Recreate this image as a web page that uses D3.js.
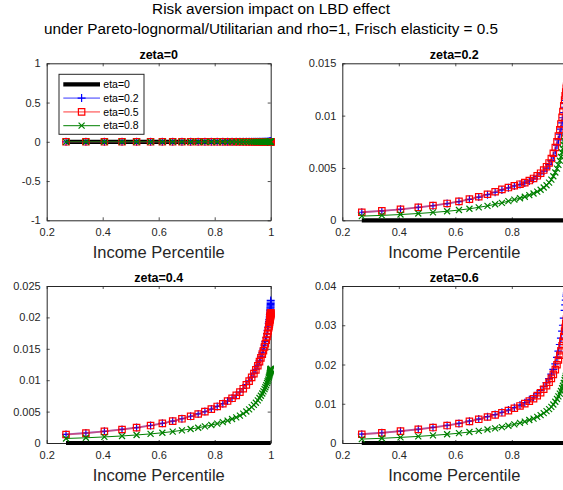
<!DOCTYPE html>
<html>
<head>
<meta charset="utf-8">
<script src="https://cdn.jsdelivr.net/npm/d3@7"></script>
<style>
  html, body { margin: 0; padding: 0; background: #fff; overflow: hidden; }
  svg { display: block; font-family: "Liberation Sans", Arial, Helvetica, sans-serif; }
</style>
</head>
<body>
<svg id="fig" width="563" height="490"></svg>
<script>
// ---- data -------------------------------------------------------------
const percentile = [0.269, 0.340, 0.406, 0.469, 0.521, 0.571, 0.613, 0.650, 0.683, 0.714,
  0.741, 0.765, 0.788, 0.809, 0.829, 0.846, 0.862, 0.877, 0.890, 0.902,
  0.913, 0.923, 0.932, 0.940, 0.947, 0.954, 0.960, 0.965, 0.970, 0.974,
  0.978, 0.981, 0.984, 0.987, 0.989, 0.991, 0.993, 0.994, 0.995, 0.996,
  0.997, 0.9975, 0.998, 0.9985, 0.9988, 0.9991, 0.9993, 0.9995, 0.9997, 0.9998,
  0.9999, 1.0];

const zeroLine = [0, 0, 0, 0, 0, 0, 0, 0, 0, 0, 0, 0, 0, 0, 0, 0, 0, 0, 0, 0,
  0, 0, 0, 0, 0, 0, 0, 0, 0, 0, 0, 0, 0, 0, 0, 0, 0, 0, 0, 0,
  0, 0, 0, 0, 0, 0, 0, 0, 0, 0, 0, 0];

// zeta = 0.2
const zeta02_eta02 = [0.00077, 0.00090, 0.00105, 0.00123, 0.00140, 0.00160, 0.00179, 0.00200, 0.00222, 0.00245,
  0.00268, 0.00290, 0.00310, 0.00328, 0.00342, 0.00357, 0.00376, 0.00396, 0.00420, 0.00443,
  0.00470, 0.00499, 0.00532, 0.00571, 0.00617, 0.00667, 0.00718, 0.00768, 0.00822, 0.00872,
  0.00930, 0.00980, 0.01030, 0.01080, 0.01115, 0.01145, 0.01178, 0.01194, 0.01210, 0.01225,
  0.01238, 0.01245, 0.01252, 0.01259, 0.01264, 0.01269, 0.01273, 0.01277, 0.01281, 0.01284,
  0.01287, 0.01290];
const zeta02_eta05 = [0.00077, 0.00090, 0.00105, 0.00124, 0.00141, 0.00161, 0.00181, 0.00202, 0.00225, 0.00249,
  0.00273, 0.00295, 0.00313, 0.00330, 0.00345, 0.00360, 0.00380, 0.00400, 0.00425, 0.00450,
  0.00480, 0.00512, 0.00548, 0.00590, 0.00640, 0.00695, 0.00750, 0.00805, 0.00865, 0.00920,
  0.00985, 0.01040, 0.01095, 0.01150, 0.01190, 0.01225, 0.01262, 0.01280, 0.01298, 0.01315,
  0.01330, 0.01338, 0.01346, 0.01354, 0.01360, 0.01366, 0.01370, 0.01375, 0.01380, 0.01383,
  0.01387, 0.01390];
const zeta02_eta08 = [0.00040, 0.00047, 0.00055, 0.00065, 0.00075, 0.00086, 0.00098, 0.00110, 0.00124, 0.00138,
  0.00153, 0.00167, 0.00183, 0.00197, 0.00211, 0.00225, 0.00240, 0.00256, 0.00274, 0.00292,
  0.00313, 0.00335, 0.00360, 0.00388, 0.00421, 0.00457, 0.00494, 0.00530, 0.00570, 0.00606,
  0.00648, 0.00684, 0.00720, 0.00757, 0.00783, 0.00806, 0.00830, 0.00842, 0.00854, 0.00865,
  0.00875, 0.00880, 0.00885, 0.00891, 0.00895, 0.00899, 0.00901, 0.00905, 0.00908, 0.00910,
  0.00913, 0.00916];

// zeta = 0.4
const zeta04_eta02 = [0.00136, 0.00159, 0.00186, 0.00216, 0.00246, 0.00279, 0.00313, 0.00349, 0.00386, 0.00426,
  0.00463, 0.00501, 0.00541, 0.00583, 0.00626, 0.00669, 0.00713, 0.00760, 0.00812, 0.00868,
  0.00928, 0.00989, 0.01050, 0.01112, 0.01174, 0.01241, 0.01309, 0.01372, 0.01436, 0.01495,
  0.01560, 0.01615, 0.01676, 0.01743, 0.01794, 0.01846, 0.01904, 0.01936, 0.01970, 0.02006,
  0.02044, 0.02064, 0.02086, 0.02110, 0.02128, 0.02148, 0.02165, 0.02183, 0.02205, 0.02222,
  0.02245, 0.02270];
const zeta04_eta05 = [0.00135, 0.00158, 0.00185, 0.00215, 0.00245, 0.00278, 0.00312, 0.00348, 0.00385, 0.00425,
  0.00462, 0.00500, 0.00540, 0.00582, 0.00625, 0.00668, 0.00712, 0.00758, 0.00810, 0.00865,
  0.00925, 0.00985, 0.01045, 0.01105, 0.01165, 0.01230, 0.01295, 0.01355, 0.01415, 0.01470,
  0.01530, 0.01580, 0.01635, 0.01695, 0.01740, 0.01785, 0.01835, 0.01862, 0.01890, 0.01920,
  0.01950, 0.01966, 0.01982, 0.01998, 0.02010, 0.02022, 0.02032, 0.02042, 0.02053, 0.02060,
  0.02068, 0.02075];
const zeta04_eta08 = [0.00072, 0.00083, 0.00097, 0.00112, 0.00128, 0.00145, 0.00163, 0.00182, 0.00202, 0.00223,
  0.00243, 0.00264, 0.00286, 0.00309, 0.00333, 0.00357, 0.00382, 0.00408, 0.00437, 0.00468,
  0.00502, 0.00536, 0.00571, 0.00606, 0.00641, 0.00679, 0.00717, 0.00752, 0.00788, 0.00821,
  0.00857, 0.00887, 0.00920, 0.00956, 0.00983, 0.01010, 0.01040, 0.01056, 0.01073, 0.01091,
  0.01109, 0.01118, 0.01128, 0.01137, 0.01144, 0.01151, 0.01157, 0.01163, 0.01169, 0.01173,
  0.01178, 0.01182];

// zeta = 0.6
const zeta06_eta02 = [0.00225, 0.00261, 0.00304, 0.00350, 0.00397, 0.00448, 0.00500, 0.00555, 0.00610, 0.00670,
  0.00725, 0.00781, 0.00840, 0.00902, 0.00965, 0.01028, 0.01100, 0.01168, 0.01255, 0.01338,
  0.01438, 0.01540, 0.01642, 0.01756, 0.01874, 0.02014, 0.02180, 0.02340, 0.02510, 0.02670,
  0.02850, 0.03000, 0.03180, 0.03380, 0.03520, 0.03640, 0.03740, 0.03790, 0.03830, 0.03870,
  0.03900, 0.03920, 0.03930, 0.03940, 0.03950, 0.03960, 0.03970, 0.03970, 0.03980, 0.03980,
  0.03990, 0.03990];
const zeta06_eta05 = [0.00223, 0.00259, 0.00302, 0.00348, 0.00394, 0.00445, 0.00496, 0.00550, 0.00604, 0.00663,
  0.00716, 0.00770, 0.00826, 0.00885, 0.00944, 0.01002, 0.01068, 0.01129, 0.01207, 0.01280,
  0.01369, 0.01458, 0.01547, 0.01646, 0.01748, 0.01870, 0.01994, 0.02114, 0.02236, 0.02352,
  0.02479, 0.02591, 0.02714, 0.02848, 0.02941, 0.03035, 0.03120, 0.03165, 0.03213, 0.03264,
  0.03315, 0.03342, 0.03369, 0.03397, 0.03417, 0.03437, 0.03454, 0.03471, 0.03490, 0.03502,
  0.03516, 0.03528];
const zeta06_eta08 = [0.00100, 0.00120, 0.00143, 0.00168, 0.00194, 0.00222, 0.00250, 0.00280, 0.00310, 0.00343,
  0.00374, 0.00406, 0.00440, 0.00475, 0.00511, 0.00546, 0.00585, 0.00622, 0.00667, 0.00710,
  0.00762, 0.00813, 0.00864, 0.00921, 0.00980, 0.01050, 0.01121, 0.01189, 0.01258, 0.01324,
  0.01396, 0.01459, 0.01529, 0.01605, 0.01658, 0.01711, 0.01759, 0.01785, 0.01812, 0.01840,
  0.01869, 0.01884, 0.01899, 0.01915, 0.01926, 0.01937, 0.01946, 0.01956, 0.01966, 0.01973,
  0.01981, 0.01988];

const etaLabels = ["eta=0", "eta=0.2", "eta=0.5", "eta=0.8"];
const panelTitles = ["zeta=0", "zeta=0.2", "zeta=0.4", "zeta=0.6"];
const xTicks = [0.2, 0.4, 0.6, 0.8, 1];
const yTicksZeta0 = [-1, -0.5, 0, 0.5, 1];
const yTicksZeta02 = [0, 0.005, 0.01, 0.015];
const yTicksZeta04 = [0, 0.005, 0.01, 0.015, 0.02, 0.025];
const yTicksZeta06 = [0, 0.01, 0.02, 0.03, 0.04];
const figureTitle = ["Risk aversion impact on LBD effect",
  "under Pareto-lognormal/Utilitarian and rho=1, Frisch elasticity = 0.5"];
const xLabel = "Income Percentile";

// ---- styling ----------------------------------------------------------
const AX = "#262626";
const seriesStyle = [
  { color: "#000000", width: 4.2, opacity: 1, marker: null },
  { color: "#0000ff", width: 1.8, opacity: 0.45, marker: "plus" },
  { color: "#ff0000", width: 1.8, opacity: 0.45, marker: "square" },
  { color: "#008000", width: 1.0, opacity: 1, marker: "times" }
];

function markerPath(kind) {
  if (kind === "plus") return "M-4,0H4M0,-4V4";
  if (kind === "square") return "M-3.2,-3.2H3.2V3.2H-3.2Z";
  if (kind === "times") return "M-3,-3L3,3M-3,3L3,-3";
  return "";
}

const panels = [
  { title: panelTitles[0], series: [zeroLine, zeroLine, zeroLine, zeroLine], yDomain: [-1, 1], yTicks: yTicksZeta0, left: 46.7, top: 63.3, width: 224, legend: true },
  { title: panelTitles[1], series: [zeroLine, zeta02_eta02, zeta02_eta05, zeta02_eta08], yDomain: [0, 0.015], yTicks: yTicksZeta02, left: 342.3, top: 63.3, width: 226 },
  { title: panelTitles[2], series: [zeroLine, zeta04_eta02, zeta04_eta05, zeta04_eta08], yDomain: [0, 0.025], yTicks: yTicksZeta04, left: 46.7, top: 286, width: 224 },
  { title: panelTitles[3], series: [zeroLine, zeta06_eta02, zeta06_eta05, zeta06_eta08], yDomain: [0, 0.04], yTicks: yTicksZeta06, left: 342.3, top: 286, width: 226 }
];
const PH = 157;

const svg = d3.select("#fig");

// figure title
svg.append("text").attr("x", 271).attr("y", 13.5).attr("text-anchor", "middle")
  .attr("font-size", 15.3).attr("fill", "#000").text(figureTitle[0]);
svg.append("text").attr("x", 271).attr("y", 33.5).attr("text-anchor", "middle")
  .attr("font-size", 15.3).attr("fill", "#000").text(figureTitle[1]);

const fmt = d => String(d);

panels.forEach(p => {
  const PW = p.width;
  const g = svg.append("g").attr("transform", `translate(${p.left},${p.top})`);
  const x = d3.scaleLinear().domain([0.2, 1]).range([0, PW]);
  const y = d3.scaleLinear().domain(p.yDomain).range([PH, 0]);

  g.append("rect").attr("width", PW).attr("height", PH).attr("fill", "#fff");

  // axes with inward ticks, MATLAB box style
  const styleAxis = sel => {
    sel.select(".domain").attr("stroke", AX).attr("stroke-width", 1);
    sel.selectAll(".tick line").attr("stroke", AX).attr("stroke-width", 0.8);
    sel.selectAll(".tick text").attr("fill", AX).attr("font-size", 11)
      .attr("font-family", '"Liberation Sans", Arial, Helvetica, sans-serif');
  };
  g.append("g").attr("transform", `translate(0,${PH})`)
    .call(d3.axisBottom(x).tickValues(xTicks).tickFormat(fmt).tickSizeInner(-3).tickSizeOuter(0).tickPadding(8))
    .call(styleAxis);
  g.append("g")
    .call(d3.axisTop(x).tickValues(xTicks).tickFormat("").tickSizeInner(-3).tickSizeOuter(0))
    .call(styleAxis);
  g.append("g")
    .call(d3.axisLeft(y).tickValues(p.yTicks).tickFormat(fmt).tickSizeInner(-3).tickSizeOuter(0).tickPadding(6))
    .call(styleAxis);
  g.append("g").attr("transform", `translate(${PW},0)`)
    .call(d3.axisRight(y).tickValues(p.yTicks).tickFormat("").tickSizeInner(-3).tickSizeOuter(0))
    .call(styleAxis);

  // series
  const line = d3.line().x((d, i) => x(percentile[i])).y(d => y(d));
  p.series.forEach((vals, k) => {
    const st = seriesStyle[k];
    g.append("path").datum(vals).attr("d", line)
      .attr("fill", "none").attr("stroke", st.color)
      .attr("stroke-width", st.width).attr("stroke-opacity", st.opacity)
      .attr("stroke-linejoin", "round");
    if (st.marker) {
      g.append("g").selectAll("path").data(vals).join("path")
        .attr("transform", (d, i) => `translate(${x(percentile[i])},${y(d)})`)
        .attr("d", markerPath(st.marker))
        .attr("fill", "none").attr("stroke", st.color).attr("stroke-width", 1.2);
    }
  });

  // panel title
  g.append("text").attr("x", 224 / 2).attr("y", -4).attr("text-anchor", "middle")
    .attr("font-size", 12.5).attr("font-weight", "bold").attr("fill", "#000").text(p.title);
  // x label
  g.append("text").attr("x", 224 / 2).attr("y", PH + 37.5).attr("text-anchor", "middle")
    .attr("font-size", 16.5).attr("fill", AX).text(xLabel);

  // legend
  if (p.legend) {
    const lg = g.append("g").attr("transform", "translate(12.3,11)");
    lg.append("rect").attr("width", 85).attr("height", 60)
      .attr("fill", "#fff").attr("stroke", AX).attr("stroke-width", 1);
    etaLabels.forEach((lab, k) => {
      const st = seriesStyle[k];
      const cy = 10 + k * 13.8;
      lg.append("line").attr("x1", 4.3).attr("x2", 41).attr("y1", cy).attr("y2", cy)
        .attr("stroke", st.color).attr("stroke-width", st.width).attr("stroke-opacity", st.opacity);
      if (st.marker) {
        lg.append("path").attr("transform", `translate(22.6,${cy})`).attr("d", markerPath(st.marker))
          .attr("fill", "none").attr("stroke", st.color).attr("stroke-width", 1.2);
      }
      lg.append("text").attr("x", 44.3).attr("y", cy + 3.7).attr("font-size", 10.5)
        .attr("fill", "#000").text(lab);
    });
  }
});
</script>
</body>
</html>
